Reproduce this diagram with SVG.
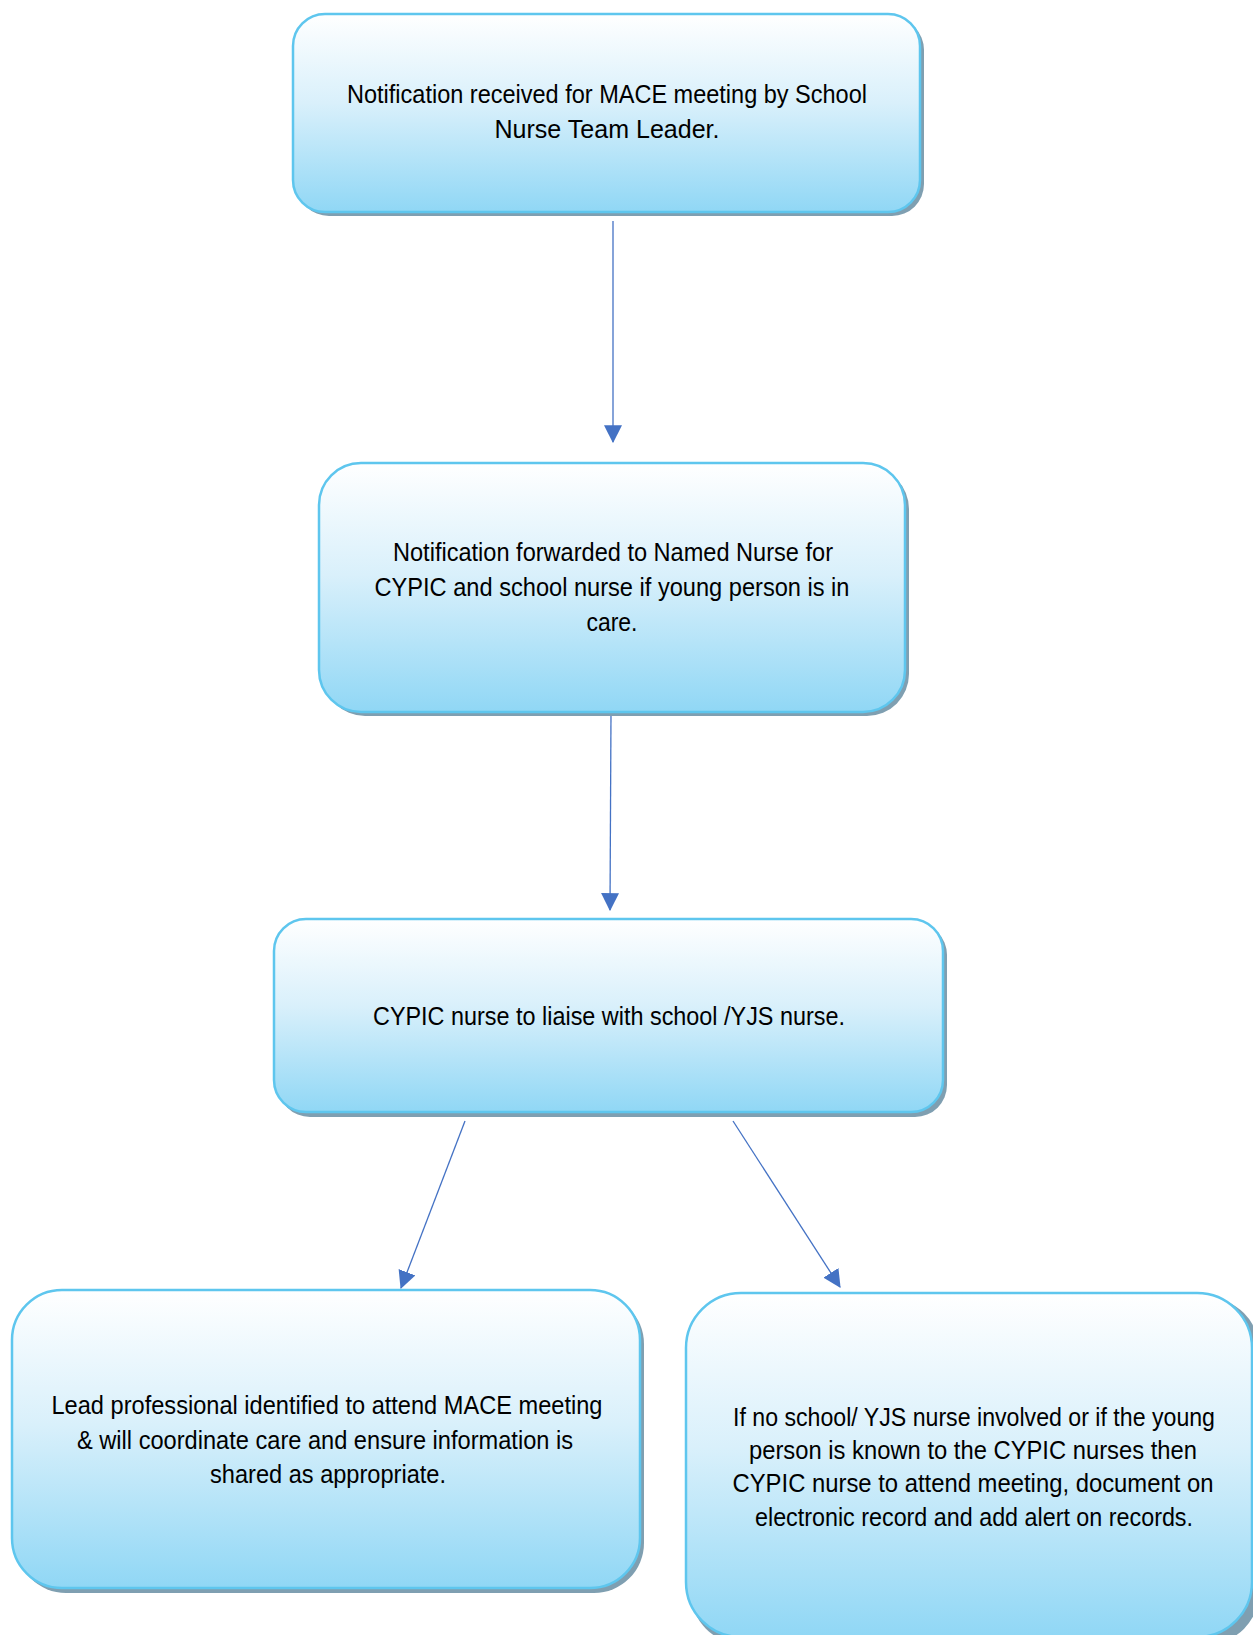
<svg xmlns="http://www.w3.org/2000/svg" width="1253" height="1635" viewBox="0 0 1253 1635">
<defs>
<linearGradient id="g" x1="0" y1="0" x2="0" y2="1">
<stop offset="0" stop-color="#ffffff"/>
<stop offset="0.45" stop-color="#d9f0fb"/>
<stop offset="1" stop-color="#90d7f5"/>
</linearGradient>
<marker id="ah" markerUnits="userSpaceOnUse" markerWidth="18" markerHeight="18" viewBox="0 0 16 16" refX="15" refY="8" orient="auto">
<path d="M0,0 L16,8 L0,16 Z" fill="#4472c4"/>
</marker>
<style>
.sh{fill:#7f9fb1}
.bx{fill:url(#g);stroke:#5ec6ee;stroke-width:2.5}
.t{font-family:"Liberation Sans",Arial,sans-serif;font-size:26px;fill:#000;text-anchor:middle}
.c{stroke:#4472c4;stroke-width:1.3;fill:none;marker-end:url(#ah)}
</style>
</defs>
<g id="connectors">
<line class="c" x1="613" y1="221" x2="613" y2="442"/>
<line class="c" x1="611" y1="712" x2="610" y2="910"/>
<line class="c" x1="465" y1="1121" x2="401" y2="1288"/>
<line class="c" x1="733" y1="1121" x2="840" y2="1287"/>
</g>
<g id="n1">
<rect class="sh" x="297" y="18" width="627" height="198" rx="32"/>
<rect class="bx" x="293" y="14" width="627" height="198" rx="32"/>
<text class="t" x="607" y="103" textLength="520" lengthAdjust="spacingAndGlyphs">Notification received for MACE meeting by School</text>
<text class="t" x="607" y="138" textLength="225" lengthAdjust="spacingAndGlyphs">Nurse Team Leader.</text>
</g>
<g id="n2">
<rect class="sh" x="323" y="467" width="586" height="249" rx="42"/>
<rect class="bx" x="319" y="463" width="586" height="249" rx="42"/>
<text class="t" x="613" y="561" textLength="440" lengthAdjust="spacingAndGlyphs">Notification forwarded to Named Nurse for</text>
<text class="t" x="612" y="596" textLength="475" lengthAdjust="spacingAndGlyphs">CYPIC and school nurse if young person is in</text>
<text class="t" x="612" y="631" textLength="51" lengthAdjust="spacingAndGlyphs">care.</text>
</g>
<g id="n3">
<rect class="sh" x="278" y="923" width="669" height="194" rx="32"/>
<rect class="bx" x="274" y="919" width="669" height="193" rx="32"/>
<text class="t" x="609" y="1025" textLength="472" lengthAdjust="spacingAndGlyphs">CYPIC nurse to liaise with school /YJS nurse.</text>
</g>
<g id="n4">
<rect class="sh" x="16" y="1294" width="628" height="299" rx="50"/>
<rect class="bx" x="12" y="1290" width="628" height="298" rx="50"/>
<text class="t" x="327" y="1414" textLength="551" lengthAdjust="spacingAndGlyphs">Lead professional identified to attend MACE meeting</text>
<text class="t" x="325" y="1449" textLength="496" lengthAdjust="spacingAndGlyphs">&amp; will coordinate care and ensure information is</text>
<text class="t" x="328" y="1483" textLength="236" lengthAdjust="spacingAndGlyphs">shared as appropriate.</text>
</g>
<g id="n5">
<rect class="sh" x="690" y="1297" width="570" height="348" rx="55"/>
<rect class="bx" x="686" y="1293" width="566" height="344" rx="55"/>
<text class="t" x="974" y="1426" textLength="482" lengthAdjust="spacingAndGlyphs">If no school/ YJS nurse involved or if the young</text>
<text class="t" x="973" y="1459" textLength="448" lengthAdjust="spacingAndGlyphs">person is known to the CYPIC nurses then</text>
<text class="t" x="973" y="1492" textLength="481" lengthAdjust="spacingAndGlyphs">CYPIC nurse to attend meeting, document on</text>
<text class="t" x="974" y="1526" textLength="438" lengthAdjust="spacingAndGlyphs">electronic record and add alert on records.</text>
</g>
</svg>
